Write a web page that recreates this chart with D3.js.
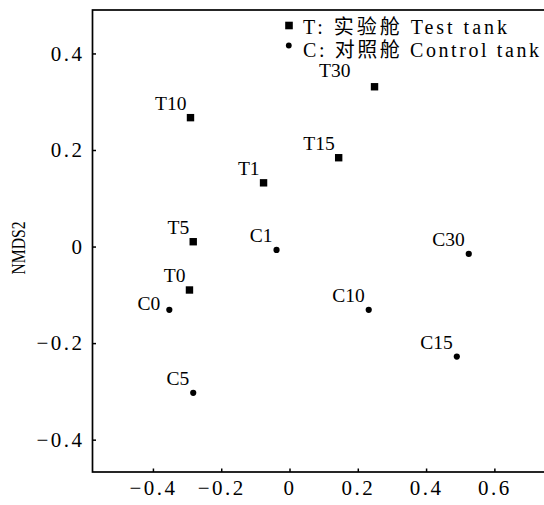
<!DOCTYPE html>
<html>
<head>
<meta charset="utf-8">
<script src="https://cdn.jsdelivr.net/npm/d3@7"></script>
<style>
  body { margin: 0; background: #fff; }
  svg { display: block; }
  .label { font-family: "Liberation Serif", serif; font-size: 19.5px; fill: #000; }
  .axis text { font-family: "Liberation Serif", serif; font-size: 21px; letter-spacing: 2.5px; fill: #000; }
  .legend text { font-family: "Liberation Serif", "Noto Sans CJK SC", serif; font-size: 20px; fill: #000; }
  .title { font-family: "Liberation Serif", serif; font-size: 19px; fill: #000; }
</style>
</head>
<body>
<div id="chart"></div>
<script>
// NMDS scores
const names = ["T0", "T1", "T5", "T10", "T15", "T30", "C0", "C1", "C5", "C10", "C15", "C30"];
const group = ["T", "T", "T", "T", "T", "T", "C", "C", "C", "C", "C", "C"];
const nmds1 = [-0.293, -0.076, -0.282, -0.290, 0.144, 0.249, -0.352, -0.038, -0.282, 0.232, 0.490, 0.525];
const nmds2 = [-0.090, 0.132, 0.010, 0.267, 0.184, 0.331, -0.131, -0.007, -0.303, -0.131, -0.228, -0.015];

const xTicks = [-0.4, -0.2, 0, 0.2, 0.4, 0.6];
const yTicks = [-0.4, -0.2, 0, 0.2, 0.4];
const legendLabels = ["T: 实验舱 Test tank", "C: 对照舱 Control tank"];

const points = names.map((n, i) => ({ name: n, group: group[i], x: nmds1[i], y: nmds2[i] }));

const width = 544;
const height = 505;
const plotLeft = 92.5, plotTop = 10, plotBottom = 472, plotRight = 549;

const x = d3.scaleLinear()
  .domain([-0.577, 0.76])
  .range([plotLeft, plotRight]);

const y = d3.scaleLinear()
  .domain([-0.467, 0.49])
  .range([plotBottom, plotTop]);

const svg = d3.select('#chart')
  .append('svg')
    .attr('width', width)
    .attr('height', height);

const fmt = d => d === 0 ? '0' : d3.format('.1f')(d);

function styleAxis(g) {
  g.attr('class', 'axis').attr('font-family', null).attr('font-size', null);
  g.select('.domain').remove();
  g.selectAll('.tick line').attr('stroke', '#000').attr('stroke-width', 1.5);
}

svg.append('g')
    .attr('transform', `translate(0,${plotBottom})`)
    .call(d3.axisBottom(x).tickValues(xTicks).tickFormat(fmt).tickSize(-3.5).tickPadding(8))
    .call(styleAxis);

svg.append('g')
    .attr('transform', `translate(${plotLeft},0)`)
    .call(d3.axisLeft(y).tickValues(yTicks).tickFormat(fmt).tickSize(-3.5).tickPadding(8))
    .call(styleAxis);

// frame
svg.append('rect')
    .attr('x', plotLeft)
    .attr('y', plotTop)
    .attr('width', plotRight - plotLeft)
    .attr('height', plotBottom - plotTop)
    .attr('fill', 'none')
    .attr('stroke', '#000')
    .attr('stroke-width', 1.7);

svg.append('text')
    .attr('class', 'title')
    .attr('transform', `translate(25,${(plotTop + plotBottom) / 2 + 7}) rotate(-90)`)
    .attr('text-anchor', 'middle')
    .attr('textLength', 53)
    .attr('lengthAdjust', 'spacingAndGlyphs')
    .text('NMDS2');

// points
const labelShift = { C0: [-9, 0], T30: [-24, -10] };
const shift = d => labelShift[d.name] || [-4, -8];

const pts = svg.selectAll('g.pt')
  .data(points)
  .join('g')
    .attr('class', 'pt');

pts.filter(d => d.group === 'T')
  .append('rect')
    .attr('x', d => x(d.x) - 3.7)
    .attr('y', d => y(d.y) - 3.7)
    .attr('width', 7.4)
    .attr('height', 7.4)
    .attr('fill', '#000');

pts.filter(d => d.group === 'C')
  .append('circle')
    .attr('cx', d => x(d.x))
    .attr('cy', d => y(d.y))
    .attr('r', 3.1)
    .attr('fill', '#000');

pts.append('text')
    .attr('class', 'label')
    .attr('text-anchor', 'end')
    .attr('x', d => x(d.x) + shift(d)[0])
    .attr('y', d => y(d.y) + shift(d)[1])
    .text(d => d.name);

// legend
const legend = svg.append('g').attr('class', 'legend');
legend.append('rect')
    .attr('x', 285.2).attr('y', 21.7)
    .attr('width', 7.6).attr('height', 7.6)
    .attr('fill', '#000');
legend.append('circle')
    .attr('cx', 288.8).attr('cy', 45.5)
    .attr('r', 2.9)
    .attr('fill', '#000');
legend.selectAll('text')
  .data(legendLabels)
  .join('text')
    .attr('x', 303)
    .attr('y', (d, i) => 34 + i * 22.5)
    .attr('textLength', (d, i) => i === 0 ? 204 : 236)
    .attr('lengthAdjust', 'spacing')
    .text(d => d);
</script>
</body>
</html>
